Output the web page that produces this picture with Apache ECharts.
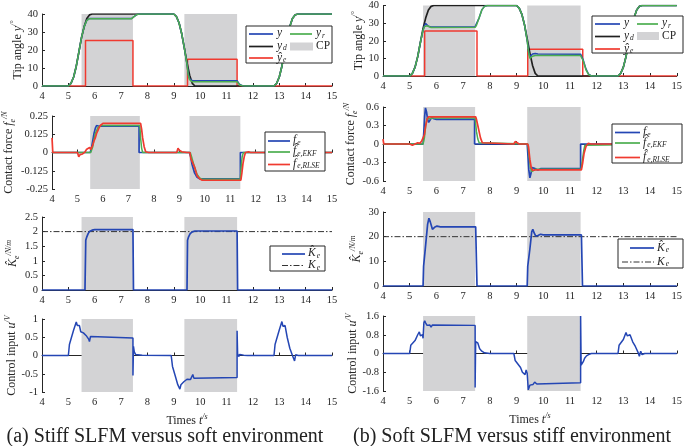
<!DOCTYPE html>
<html><head><meta charset="utf-8">
<script src="https://cdn.jsdelivr.net/npm/echarts/dist/echarts.min.js"></script>
<style>html,body{margin:0;padding:0;background:#fff}#c{width:685px;height:446px}</style>
</head><body><div id="c"></div>
<script>
// ---------------- data ----------------
const xTicks = [4,15,1];
const cpA = [[5.5,7.45],[9.4,11.4]];
const cpB = [[5.5,7.45],[9.4,11.4]];

// (a) tip angle
const ydA = [[4,0],[5,0],[5.1,1.5],[5.2,5],[5.3,11],[5.4,19],[5.5,27],[5.6,33],[5.7,37.5],[5.8,39.5],[5.9,40],[9.0,40],[9.1,38.5],[9.2,35],[9.3,29],[9.4,21],[9.5,13],[9.6,6],[9.7,1.5],[9.8,0],[12.8,0],[12.9,1.5],[13.0,5],[13.1,11],[13.2,19],[13.3,27],[13.4,33],[13.5,37.5],[13.6,39.5],[13.7,40],[15,40]];
const yA  = [[4,0],[5,0],[5.1,1.5],[5.2,5],[5.3,11],[5.4,19],[5.5,27],[5.6,33],[5.7,36.5],[5.8,37.5],[7.4,37.5],[7.5,38.7],[7.6,39.7],[7.7,40],[9.0,40],[9.1,38.5],[9.2,35],[9.3,29],[9.4,21],[9.5,12],[9.55,6.5],[9.6,4],[9.7,3],[11.4,2.9],[11.45,2],[11.5,0.8],[11.6,0.2],[11.7,0],[12.8,0],[12.9,1.5],[13.0,5],[13.1,11],[13.2,19],[13.3,27],[13.4,33],[13.5,37.5],[13.6,39.5],[13.7,40],[15,40]];
const yrA = [[4,0],[5,0],[5.1,1.5],[5.2,5],[5.3,11],[5.4,19],[5.5,27],[5.6,33],[5.7,36.5],[5.8,37.4],[7.4,37.4],[7.5,38.7],[7.6,39.7],[7.7,40],[9.0,40],[9.1,38.5],[9.2,35],[9.3,29],[9.4,21],[9.5,12],[9.55,6],[9.6,3.5],[9.7,2.3],[11.4,2.3],[11.45,1.6],[11.5,0.6],[11.6,0.1],[11.7,0],[12.8,0],[12.9,1.5],[13.0,5],[13.1,11],[13.2,19],[13.3,27],[13.4,33],[13.5,37.5],[13.6,39.5],[13.7,40],[15,40]];
const yeA = [[4,0],[5.65,0],[5.65,25.3],[7.45,25.3],[7.45,0],[9.52,0],[9.52,14.9],[11.4,14.9],[11.4,0],[15,0]];

// (b) tip angle
const ydB = ydA;
const yB  = [[4,0],[5,0],[5.1,1.5],[5.2,5],[5.3,11],[5.4,19],[5.5,26],[5.55,28.5],[5.6,29.8],[5.65,29.2],[5.7,28.2],[5.8,27.8],[7.45,28],[7.5,29],[7.6,33],[7.7,37.5],[7.8,39.5],[7.9,40],[9.0,40],[9.1,38.5],[9.2,35],[9.3,29],[9.4,20],[9.45,14],[9.5,11],[9.55,11.5],[9.6,12.5],[9.7,12.8],[9.8,12.5],[11.4,12.4],[11.5,9],[11.6,4],[11.7,1],[11.8,0],[12.8,0],[12.9,1.5],[13.0,5],[13.1,11],[13.2,19],[13.3,27],[13.4,33],[13.5,37.5],[13.6,39.5],[13.7,40],[15,40]];
const yrB = [[4,0],[5,0],[5.1,1.5],[5.2,5],[5.3,11],[5.4,19],[5.5,26],[5.55,28],[5.6,29],[5.65,28.5],[5.7,27.7],[5.8,27.5],[7.45,27.6],[7.5,28.8],[7.6,33],[7.7,37.5],[7.8,39.5],[7.9,40],[9.0,40],[9.1,38.5],[9.2,35],[9.3,29],[9.4,20],[9.45,13.5],[9.5,10],[9.55,10.5],[9.6,11.2],[9.7,11.6],[11.4,11.6],[11.5,8.5],[11.6,3.5],[11.7,0.8],[11.8,0],[12.8,0],[12.9,1.5],[13.0,5],[13.1,11],[13.2,19],[13.3,27],[13.4,33],[13.5,37.5],[13.6,39.5],[13.7,40],[15,40]];
const yeB = [[4,0],[5.56,0],[5.56,25.5],[7.52,25.5],[7.52,0],[9.42,0],[9.42,15.2],[11.48,15.2],[11.48,0],[15,0]];

// (a) contact force
const feA   = [[4,0],[5.5,0],[5.55,0.03],[5.6,0.08],[5.65,0.13],[5.7,0.165],[5.75,0.185],[5.8,0.19],[5.85,0.18],[7.42,0.18],[7.42,0],[9.4,0],[9.45,-0.03],[9.5,-0.08],[9.6,-0.14],[9.7,-0.17],[9.8,-0.18],[11.4,-0.18],[11.4,0],[15,0]];
const fEkfA = [[4,0],[5.52,0],[5.6,0.04],[5.65,0.09],[5.7,0.13],[5.8,0.17],[5.9,0.185],[7.45,0.185],[7.48,0.1],[7.52,0.03],[7.56,0],[9.43,0],[9.5,-0.04],[9.6,-0.1],[9.7,-0.15],[9.8,-0.175],[9.9,-0.183],[11.4,-0.183],[11.43,-0.1],[11.47,-0.03],[11.52,0],[15,0]];
const fRlsA = [[4,0.1],[4.03,0],[4.9,0],[5.0,0],[5.05,-0.03],[5.1,-0.015],[5.2,-0.01],[5.3,0.005],[5.35,0.02],[5.42,0.01],[5.48,0.035],[5.52,0.02],[5.6,0.05],[5.65,0.08],[5.7,0.1],[5.75,0.13],[5.8,0.15],[5.85,0.17],[5.9,0.185],[6.0,0.2],[7.48,0.2],[7.52,0.16],[7.56,0.1],[7.62,0.04],[7.68,0.005],[7.72,-0.005],[7.8,0],[8.9,0],[8.95,0.03],[9.0,0.015],[9.1,0.005],[9.2,0.002],[9.3,0],[9.42,0],[9.45,-0.04],[9.5,-0.05],[9.55,-0.08],[9.6,-0.1],[9.65,-0.13],[9.7,-0.16],[9.8,-0.18],[9.9,-0.19],[11.42,-0.19],[11.46,-0.14],[11.5,-0.08],[11.55,-0.03],[11.6,0],[11.65,0.01],[11.72,0.005],[11.8,0],[15,0]];

// (b) contact force
const feB   = [[4,0],[5.5,0],[5.53,0.2],[5.56,0.45],[5.59,0.585],[5.63,0.52],[5.67,0.4],[5.71,0.35],[5.76,0.38],[5.82,0.43],[5.9,0.41],[6.0,0.4],[7.43,0.4],[7.43,0],[9.4,0],[9.43,-0.2],[9.46,-0.42],[9.5,-0.55],[9.54,-0.48],[9.58,-0.38],[9.63,-0.35],[9.7,-0.4],[9.8,-0.42],[9.9,-0.4],[11.4,-0.4],[11.4,0],[15,0]];
const fEkfB = [[4,0],[5.5,0],[5.55,0.1],[5.6,0.3],[5.65,0.42],[5.7,0.44],[5.75,0.41],[5.85,0.42],[7.45,0.42],[7.5,0.2],[7.55,0.08],[7.6,0.02],[7.65,0],[9.42,0],[9.47,-0.2],[9.52,-0.38],[9.57,-0.45],[9.63,-0.42],[9.7,-0.41],[11.42,-0.41],[11.47,-0.25],[11.52,-0.1],[11.56,-0.02],[11.6,0],[15,0]];
const fRlsB = [[4,0.08],[4.03,0],[5.0,0],[5.05,-0.03],[5.1,-0.02],[5.2,0],[5.3,0.02],[5.38,0.01],[5.45,0.05],[5.5,0.02],[5.55,0.15],[5.6,0.3],[5.65,0.4],[5.7,0.44],[7.47,0.44],[7.5,0.4],[7.55,0.3],[7.6,0.2],[7.65,0.1],[7.72,0.02],[7.78,0],[8.9,0],[8.95,0.04],[9.0,0.015],[9.1,0],[9.42,0],[9.45,-0.05],[9.5,-0.25],[9.55,-0.38],[9.6,-0.43],[9.7,-0.42],[11.43,-0.42],[11.48,-0.3],[11.53,-0.15],[11.6,-0.04],[11.68,0.01],[11.8,0],[15,0]];

// (a) stiffness
const KhA = [[4,0],[5.63,0],[5.66,1.7],[5.7,1.82],[5.75,1.93],[5.8,2.0],[5.9,2.05],[6.0,2.07],[7.45,2.07],[7.47,0],[9.5,0],[9.52,1.7],[9.56,1.82],[9.62,1.93],[9.7,1.99],[9.8,2.02],[11.4,2.02],[11.42,0],[15,0]];
const KeA = [[4,2],[15,2]];
// (b) stiffness
const KhB = [[4,0],[5.5,0],[5.52,8],[5.6,17],[5.67,25],[5.72,27.5],[5.77,26],[5.85,23],[5.93,23.8],[6.02,24.3],[6.15,24],[7.47,24],[7.52,0],[9.4,0],[9.42,8],[9.5,15],[9.57,22],[9.61,23],[9.66,21.5],[9.72,20.2],[9.8,20.5],[9.9,21],[10.0,20.7],[11.43,20.7],[11.47,0],[15,0]];
const KeB = [[4,20],[15,20]];

// (a) control input
const uA = [[4,0],[5.0,0],[5.04,0.3],[5.1,0.45],[5.2,0.7],[5.3,0.92],[5.34,0.82],[5.38,0.82],[5.42,0.82],[5.47,0.65],[5.52,0.63],[5.57,0.62],[5.62,0.6],[5.67,0.55],[5.72,0.52],[5.77,0.45],[5.8,0.38],[5.84,0.52],[5.88,0.48],[7.45,0.48],[7.45,-0.55],[7.47,0.25],[7.5,0.1],[7.55,0.03],[7.6,0],[7.8,0.01],[8.9,0],[8.95,-0.3],[9.05,-0.55],[9.15,-0.8],[9.23,-0.92],[9.27,-0.8],[9.33,-0.78],[9.38,-0.72],[9.45,-0.72],[9.5,-0.65],[9.57,-0.68],[9.63,-0.66],[9.68,-0.62],[9.72,-0.52],[9.76,-0.62],[9.8,-0.6],[11.4,-0.6],[11.4,0.68],[11.42,0.05],[11.46,-0.03],[11.5,0.03],[11.56,0.04],[11.65,0.01],[11.8,0],[12.8,0],[12.84,0.3],[12.9,0.45],[13.0,0.7],[13.1,0.93],[13.14,0.8],[13.18,0.83],[13.22,0.82],[13.3,0.5],[13.4,0.2],[13.5,0],[13.58,-0.15],[13.62,0.02],[13.65,0.05],[13.68,-0.02],[13.72,0],[15,0]];
// (b) control input
const uB = [[4,0],[5.0,0],[5.04,0.35],[5.1,0.4],[5.2,0.55],[5.3,0.8],[5.36,0.92],[5.4,0.75],[5.44,0.7],[5.48,0.8],[5.5,0.65],[5.53,1.3],[5.56,1.4],[5.6,1.3],[5.65,1.2],[5.7,1.25],[5.75,1.22],[5.8,1.12],[5.85,1.22],[5.9,1.2],[7.45,1.2],[7.45,-1.45],[7.47,0.5],[7.5,0.55],[7.55,0.45],[7.62,0.2],[7.7,0.1],[7.8,0.03],[8.0,0],[8.9,0],[8.95,-0.3],[9.05,-0.45],[9.15,-0.6],[9.22,-0.8],[9.28,-0.78],[9.32,-0.9],[9.36,-0.7],[9.4,-0.85],[9.44,-1.55],[9.5,-1.35],[9.55,-1.3],[9.62,-1.32],[9.68,-1.22],[9.72,-1.2],[9.76,-1.3],[9.8,-1.25],[11.4,-1.25],[11.4,1.6],[11.42,-0.5],[11.46,-0.45],[11.5,-0.35],[11.55,-0.2],[11.62,-0.1],[11.7,-0.05],[11.8,0],[12.8,0],[12.84,0.35],[12.9,0.4],[13.0,0.6],[13.1,0.9],[13.15,0.75],[13.2,0.82],[13.25,0.8],[13.35,0.5],[13.45,0.3],[13.55,0.05],[13.6,-0.12],[13.65,0.1],[13.7,-0.05],[13.75,0.02],[13.8,0],[15,0]];

// tick settings per panel [min,max,interval]
const yTicksA = [[0,40,10],[-0.25,0.25,0.125],[0,2.5,0.5],[-1,1,0.5]];
const yTicksB = [[0,40,10],[-0.6,0.6,0.3],[0,30,10],[-1.6,1.6,0.8]];

// ---------------- styling ----------------
const BLUE='#2446b4', GREEN='#4cae50', RED='#f03a30', BLACK='#202020', GREY='#d3d3d5', AX='#262626';
const SERIF='Liberation Serif';

const grids = [
  {left:42, top:14, width:290, height:72},
  {left:42, top:116, width:290, height:73},
  {left:42, top:217, width:290, height:73},
  {left:42, top:319, width:290, height:73},
  {left:383, top:3, width:297, height:73},
  {left:383, top:107, width:297, height:74},
  {left:383, top:212, width:297, height:74},
  {left:383, top:316, width:297, height:75}
];
const nameGaps = [13,18,14,17, 16,17,15,17];

const richBase = {
  n:{fontFamily:SERIF,fontSize:12,color:AX,lineHeight:16,verticalAlign:'middle'},
  i:{fontFamily:SERIF,fontSize:12,fontStyle:'italic',color:AX,lineHeight:16,verticalAlign:'middle'},
  s:{fontFamily:SERIF,fontSize:8,fontStyle:'italic',color:AX,lineHeight:9,verticalAlign:'top'},
  b:{fontFamily:SERIF,fontSize:8,fontStyle:'italic',color:AX,lineHeight:9,verticalAlign:'bottom'}
};
const yNames = [
  '{n|Tip angle }{i|y}{s|/°}',
  '{n|Contact force }{i|f}{b|e}{s|/N}',
  '{i|K̂}{b|e}{s|/N/m}',
  '{n|Control input }{i|u}{s|/V}'
];

const xAxes=[], yAxes=[], series=[];
for(let g=0; g<8; g++){
  const col = g<4?0:1, row=g%4;
  const yt = (col?yTicksB:yTicksA)[row];
  xAxes.push({type:'value', gridIndex:g, min:xTicks[0], max:xTicks[1], interval:xTicks[2],
    axisLine:{show:true, lineStyle:{color:AX,width:1}},
    axisTick:{show:true, inside:true, length:3, lineStyle:{color:AX}},
    axisLabel:{fontFamily:SERIF, fontSize:10.5, color:AX, margin:5},
    splitLine:{show:false},
    name: row===3 ? '{n|Times }{i|t}{s|/s}' : '', nameLocation:'middle', nameGap:21,
    nameTextStyle:{rich:richBase}
  });
  yAxes.push({type:'value', gridIndex:g, min:yt[0], max:yt[1], interval:yt[2],
    axisLine:{show:true, onZero:false, lineStyle:{color:AX,width:1}},
    axisTick:{show:true, inside:true, length:3, lineStyle:{color:AX}},
    axisLabel:{fontFamily:SERIF, fontSize:10.5, color:AX, margin:4,
      formatter: v => String(Math.round(v*1000)/1000)},
    splitLine:{show:false},
    name: yNames[row], nameLocation:'middle', nameGap: nameGaps[g], nameRotate:90,
    nameTextStyle:{rich:richBase}
  });
  const cp = col?cpB:cpA;
  series.push({type:'line', xAxisIndex:g, yAxisIndex:g, data:[], silent:true, z:1,
    markArea:{silent:true, itemStyle:{color:GREY}, data: cp.map(c=>[{xAxis:c[0]},{xAxis:c[1]}])}});
}
function ln(g, data, color, extra){
  series.push(Object.assign({type:'line', xAxisIndex:g, yAxisIndex:g, data, showSymbol:false, symbol:'none',
    lineStyle:{color, width:1.5}, z:3, animation:false, silent:true}, extra||{}));
}
// (a)
ln(0, yeA, RED); ln(0, ydA, BLACK, {lineStyle:{color:BLACK,width:1.7}}); ln(0, yA, BLUE); ln(0, yrA, GREEN);
ln(1, feA, BLUE, {lineStyle:{color:BLUE,width:1.7}}); ln(1, fEkfA, GREEN); ln(1, fRlsA, RED, {lineStyle:{color:RED,width:1.7}});
ln(2, KeA, '#333', {lineStyle:{color:'#333',width:1,type:[6,2,1.5,2]}}); ln(2, KhA, BLUE, {lineStyle:{color:BLUE,width:1.7}});
ln(3, uA, BLUE);
// (b)
ln(4, yeB, RED); ln(4, ydB, BLACK, {lineStyle:{color:BLACK,width:1.7}}); ln(4, yB, BLUE); ln(4, yrB, GREEN);
ln(5, feB, BLUE, {lineStyle:{color:BLUE,width:1.7}}); ln(5, fEkfB, GREEN); ln(5, fRlsB, RED, {lineStyle:{color:RED,width:1.7}});
ln(6, KeB, '#333', {lineStyle:{color:'#333',width:1,type:[6,2,1.5,2]}}); ln(6, KhB, BLUE, {lineStyle:{color:BLUE,width:1.7}});
ln(7, uB, BLUE);

// ---------------- legends (graphic) ----------------
const lrich = {
  n:{fontFamily:SERIF,fontSize:11.5,fill:AX,lineHeight:14,verticalAlign:'middle'},
  i:{fontFamily:SERIF,fontSize:11.5,fontStyle:'italic',fill:AX,lineHeight:14,verticalAlign:'middle'},
  b:{fontFamily:SERIF,fontSize:7.5,fontStyle:'italic',fill:AX,lineHeight:8,verticalAlign:'bottom',padding:[0,0,0,1]}
};
const gfx=[];
function box(x,y,w,h){gfx.push({type:'rect',shape:{x,y,width:w,height:h},style:{fill:'#fff',stroke:AX,lineWidth:1},z:100});}
function lseg(x1,x2,y,color,w,dash){gfx.push({type:'line',shape:{x1,y1:y,x2,y2:y},style:{stroke:color,lineWidth:w||1.7,lineDash:dash||null},z:101});}
function txt(x,y,t){gfx.push({type:'text',x,y,style:{text:t,rich:lrich,verticalAlign:'middle',align:'left'},z:102});}
function prect(x,y,w,h){gfx.push({type:'rect',shape:{x,y,width:w,height:h},style:{fill:GREY},z:101});}

// legend a1
box(246,26,86,37);
lseg(249,273,34,BLUE); txt(277,33,'{i|y}');
lseg(290,312,34,GREEN); txt(316,33,'{i|y}{b|r}');
lseg(249,273,46.5,BLACK); txt(277,45.5,'{i|y}{b|d}');
prect(290,42.5,23,8); txt(316,45.5,'{n|CP}');
lseg(249,273,58,RED); txt(277,57.5,'{i|ŷ}{b|e}');
// legend b1
box(592,16,91,37);
lseg(595,620,24,BLUE); txt(624,23,'{i|y}');
lseg(637,658,24,GREEN); txt(662,23,'{i|y}{b|r}');
lseg(595,620,36.5,BLACK); txt(624,35.5,'{i|y}{b|d}');
prect(637,32,22,8); txt(662,35.5,'{n|CP}');
lseg(595,620,49,RED); txt(624,48.5,'{i|ŷ}{b|e}');
// legend a2
box(265,132,60,39);
lseg(268,290,141,BLUE); txt(293,140,'{i|f}{b|e}');
lseg(268,290,152,GREEN); txt(293,151,'{i|f̂}{b|e,EKF}');
lseg(268,290,164.5,RED); txt(293,163.5,'{i|f̂}{b|e,RLSE}');
// legend b2
box(612,124,70,39);
lseg(615,640,132.5,BLUE); txt(643,132,'{i|f}{b|e}');
lseg(615,640,143,GREEN); txt(643,142.5,'{i|f̂}{b|e,EKF}');
lseg(615,640,157.5,RED); txt(643,157,'{i|f̂}{b|e,RLSE}');
// legend a3
box(270,246,55,25);
lseg(282,305,254,BLUE); txt(308,253,'{i|K̂}{b|e}');
lseg(282,305,265.5,'#333',1,[6,2,1.5,2]); txt(308,265,'{i|K}{b|e}');
// legend b3
box(618,239,65,29);
lseg(630,654,248,BLUE); txt(657,247.5,'{i|K̂}{b|e}');
lseg(622,654,262,'#333',1,[6,2,1.5,2]); txt(657,261.5,'{i|K}{b|e}');

// captions
gfx.push({type:'text',x:165,y:437,style:{text:'(a) Stiff SLFM versus soft environment',font:'20px "Liberation Serif"',fill:'#222',align:'center',verticalAlign:'middle'}});
gfx.push({type:'text',x:512,y:437,style:{text:'(b) Soft SLFM versus stiff environment',font:'20px "Liberation Serif"',fill:'#222',align:'center',verticalAlign:'middle'}});

const chart = echarts.init(document.getElementById('c'), null, {renderer:'canvas'});
chart.setOption({animation:false, grid:grids, xAxis:xAxes, yAxis:yAxes, series, graphic:gfx});
</script></body></html>
